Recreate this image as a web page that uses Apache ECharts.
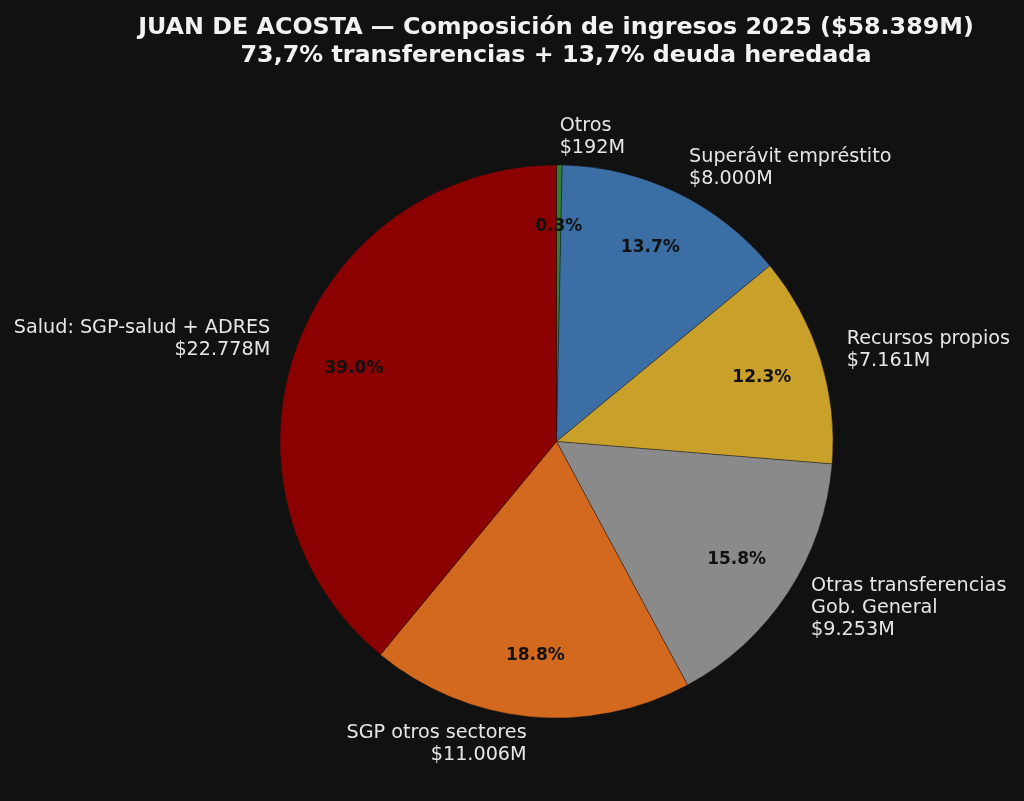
<!DOCTYPE html>
<html>
<head>
<meta charset="utf-8">
<script src="https://cdn.jsdelivr.net/npm/echarts@6/dist/echarts.min.js"></script>
<style>
html, body { margin: 0; padding: 0; background: #111111; }
#main { width: 1024px; height: 801px; }
</style>
</head>
<body>
<div id="main"></div>
<script>
// ingresos 2025, millones de pesos (en orden horario desde arriba)
var categories = ['Otros', 'Superávit empréstito', 'Recursos propios', 'Otras transferencias\nGob. General', 'SGP otros sectores', 'Salud: SGP-salud + ADRES'];
var values = [192, 8000, 7161, 9253, 11006, 22778];
var sliceColors = ['#2e7d32', '#3a6ea5', '#c9a02a', '#8a8a8a', '#d2691e', '#8b0000'];

var total = values.reduce(function (a, b) { return a + b; }, 0);

function fmtMoney(v) {
    return '$' + String(v).replace(/\B(?=(\d{3})+(?!\d))/g, '.') + 'M';
}

var pieData = categories.map(function (name, i) {
    return { name: name, value: values[i], itemStyle: { color: sliceColors[i] } };
});
var pctData = categories.map(function (name, i) {
    return { name: name, value: values[i] };
});

var R = 276.5;
var center = [556.5, 441.5];

var myChart = echarts.init(document.getElementById('main'));
option = {
    backgroundColor: '#111111',
    animation: false,
    title: {
        text: 'JUAN DE ACOSTA — Composición de ingresos 2025 ($58.389M)\n73,7% transferencias + 13,7% deuda heredada',
        left: 556,
        top: 14,
        padding: 0,
        textAlign: 'center',
        textStyle: {
            color: '#f2f2f2',
            fontFamily: 'DejaVu Sans',
            fontSize: 23.8,
            fontWeight: 'bold',
            lineHeight: 28
        }
    },
    series: [
        {
            name: 'ingresos',
            type: 'pie',
            center: center,
            radius: [0, R],
            startAngle: 90,
            clockwise: true,
            avoidLabelOverlap: false,
            itemStyle: { borderColor: '#111111', borderWidth: 0.4 },
            label: {
                show: true,
                position: 'outside',
                formatter: function (p) { return p.name + '\n' + fmtMoney(p.value); },
                color: '#e6e6e6',
                fontFamily: 'DejaVu Sans',
                fontSize: 19.2,
                lineHeight: 22,
                overflow: 'none',
                distanceToLabelLine: 0
            },
            labelLine: { show: false, length: R * 0.1, length2: 0 },
            emphasis: { disabled: true },
            data: pieData
        },
        {
            name: 'porcentaje',
            type: 'pie',
            center: center,
            radius: [R * 0.535, R],
            startAngle: 90,
            clockwise: true,
            silent: true,
            z: 5,
            avoidLabelOverlap: false,
            itemStyle: { color: 'transparent', borderWidth: 0 },
            label: {
                show: true,
                position: 'inside',
                formatter: function (p) { return (p.value / total * 100).toFixed(1) + '%'; },
                color: '#111111',
                fontFamily: 'DejaVu Sans',
                fontSize: 17,
                fontWeight: 'bold'
            },
            labelLine: { show: false },
            emphasis: { disabled: true },
            data: pctData
        }
    ]
};

myChart.setOption(option);
</script>
</body>
</html>
